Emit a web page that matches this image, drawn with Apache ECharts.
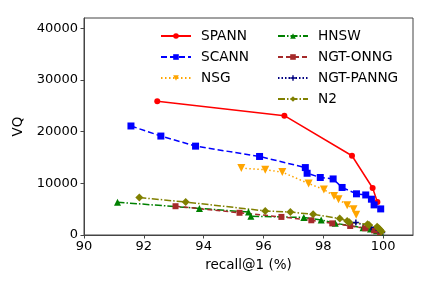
<!DOCTYPE html>
<html>
<head>
<meta charset="utf-8">
<script src="https://cdn.jsdelivr.net/npm/echarts@6/dist/echarts.min.js"></script>
<style>html,body{margin:0;padding:0;background:#fff}#c{width:432px;height:288px}</style>
</head>
<body>
<div id="c"></div>
<script>
const xTicks = [90, 92, 94, 96, 98, 100];
const yTicks = [0, 10000, 20000, 30000, 40000];
const seriesNames = ['SPANN', 'SCANN', 'NSG', 'HNSW', 'NGT-ONNG', 'NGT-PANNG', 'N2'];

const spann = [[92.45,25880],[96.70,23100],[98.96,15340],[99.65,9100],[99.81,6400]];
const scann = [[91.57,21100],[92.57,19150],[93.73,17200],[95.87,15200],[97.40,13050],[97.46,11950],[97.90,11130],[98.33,10850],[98.63,9200],[99.11,7970],[99.42,7750],[99.61,6930],[99.70,5830],[99.92,5050]];
const nsg = [[95.26,12950],[96.06,12620],[96.63,12170],[97.51,9960],[98.02,8800],[98.36,7570],[98.51,6930],[98.80,5760],[99.01,4990],[99.10,3940]];
const hnsw = [[91.12,6340],[93.86,5150],[95.50,4440],[95.58,3620],[97.35,3400],[97.93,2910],[98.40,2270],[99.33,1400],[99.58,1140],[99.78,840],[99.92,520]];
const ngtOnng = [[93.06,5570],[95.20,4300],[96.60,3500],[97.60,2850],[98.30,2250],[98.90,1750],[99.40,1300],[99.70,900],[99.90,500]];
const ngtPanng = [[99.09,2400],[99.60,1500],[99.85,900],[99.97,500]];
const n2 = [[91.85,7250],[93.40,6380],[96.06,4660],[96.90,4430],[97.66,4010],[98.55,3170],[98.80,2720],[98.87,2450],[99.48,2070],[99.53,1950],[99.80,1620],[99.85,1300],[99.90,1000],[99.95,700]];

const seriesData = [spann, scann, nsg, hnsw, ngtOnng, ngtPanng, n2];
const colors = ['#ff0000', '#0000ff', '#ffa500', '#008000', '#a52a2a', '#000080', '#808000'];
const lineTypes = ['solid', [6, 3], [1.5, 2.5], [7, 2, 1.5, 2], [5, 3], [1.5, 2], [7, 2, 1.5, 2]];
const symbols = ['circle', 'rect', 'path://M0,0L10,0L5,9Z', 'triangle', 'rect', 'path://M3,0H5V3H8V5H5V8H3V5H0V3H3Z', 'diamond'];
const symbolSizes = [6, 7, 8, 7, 6, 6, 8];

const chart = echarts.init(document.getElementById('c'), null, {renderer: 'canvas'});
const font = 'DejaVu Sans';
const legendCommon = {orient: 'vertical', top: 29, padding: 0, itemWidth: 30, itemHeight: 7, itemGap: 7,
  textStyle: {fontFamily: font, fontSize: 13.7, color: '#000', padding: [0, 0, 0, 5]}};
chart.setOption({
  animation: false,
  backgroundColor: '#fff',
  grid: {left: 84, right: 19, top: 18, bottom: 53, show: true, borderColor: '#444', borderWidth: 1},
  legend: [
    Object.assign({data: seriesNames.slice(0, 3), left: 160}, legendCommon),
    Object.assign({data: seriesNames.slice(3), left: 277}, legendCommon)
  ],
  xAxis: {
    type: 'value', min: 90, max: 101,
    name: 'recall@1 (%)', nameLocation: 'middle', nameGap: 23,
    nameTextStyle: {fontFamily: font, fontSize: 13.5, color: '#000'},
    axisLine: {show: true, lineStyle: {color: '#444', width: 1}},
    axisTick: {show: true, length: 3.5, lineStyle: {color: '#444'}, customValues: xTicks},
    axisLabel: {fontFamily: font, fontSize: 13, color: '#000', margin: 5, customValues: xTicks},
    splitLine: {show: false}
  },
  yAxis: {
    type: 'value', min: 0, max: 42000,
    name: 'VQ', nameLocation: 'middle', nameGap: 49,
    nameTextStyle: {fontFamily: font, fontSize: 13.5, color: '#000'},
    axisLine: {show: true, lineStyle: {color: '#444', width: 1}},
    axisTick: {show: true, length: 3.5, lineStyle: {color: '#444'}, customValues: yTicks},
    axisLabel: {fontFamily: font, fontSize: 13, color: '#000', margin: 6, customValues: yTicks,
      formatter: v => String(v)},
    splitLine: {show: false}
  },
  series: seriesNames.map((name, i) => ({
    name: name, type: 'line', data: seriesData[i],
    symbol: symbols[i], symbolSize: symbolSizes[i], showAllSymbol: true,
    itemStyle: {color: colors[i]},
    lineStyle: {color: colors[i], width: 1.5, type: lineTypes[i]},
    emphasis: {disabled: true}
  }))
});
</script>
</body>
</html>
